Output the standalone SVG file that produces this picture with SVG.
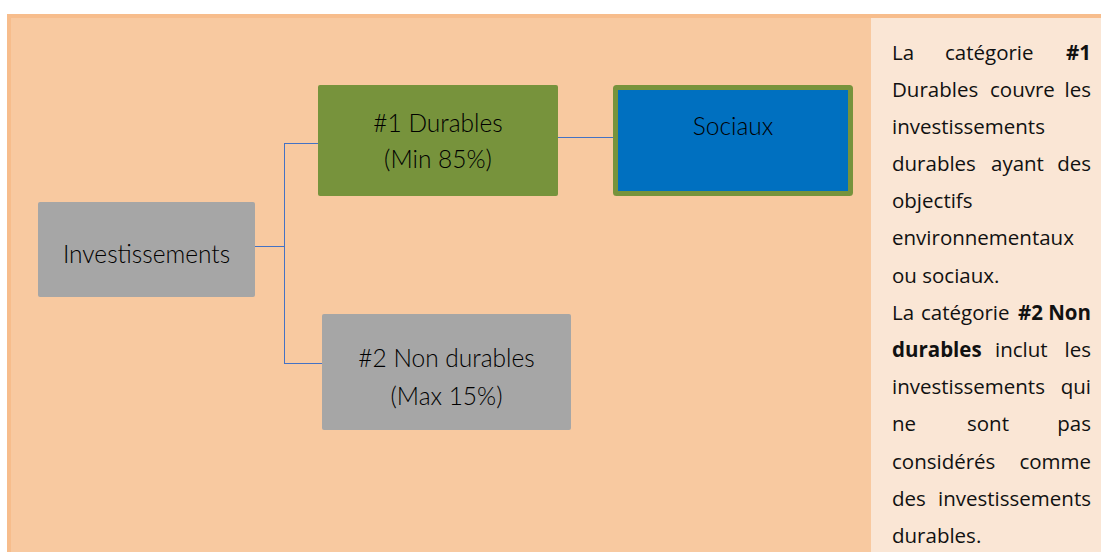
<svg xmlns="http://www.w3.org/2000/svg" width="1101" height="552" viewBox="0 0 1101 552">
<style>
.node text{font-family:Lato,"Open Sans",sans-serif;font-weight:300;font-size:24.5px;fill:#000;text-anchor:middle}
.conn{stroke:#4472C4;stroke-width:1;fill:none}
.p{font-family:"Open Sans","Liberation Sans",sans-serif;font-size:20.5px;fill:#111}
.b{font-weight:bold}
.e{text-anchor:end}
</style>
<rect x="0" y="0" width="1101" height="552" fill="#ffffff"/>
<rect x="7" y="14" width="1094" height="538" fill="#F7BD8C"/>
<rect x="11" y="18" width="1090" height="534" fill="#F8C9A0"/>
<rect x="871" y="18" width="230" height="534" fill="#FAE6D5"/>
<g id="connectors">
<path class="conn" d="M255,246.5 H284.5 M284.5,143 V364 M284,143.5 H318 M284,363.5 H322 M558,137.5 H613"/>
</g>
<g id="node-investissements" class="node">
<rect x="38" y="202" width="217" height="95" rx="2" fill="#A6A6A6"/>
<text x="146.5" y="263">Investissements</text>
</g>
<g id="node-durables" class="node">
<rect x="318" y="85" width="240" height="111" rx="2" fill="#77933C"/>
<text x="438" y="132">#1 Durables</text>
<text x="438" y="168">(Min 85%)</text>
</g>
<g id="node-sociaux" class="node">
<rect x="615.5" y="87.5" width="235" height="106" rx="1" fill="#0070C0" stroke="#77933C" stroke-width="5"/>
<text x="733" y="135">Sociaux</text>
</g>
<g id="node-non-durables" class="node">
<rect x="322" y="314" width="249" height="116" rx="2" fill="#A6A6A6"/>
<text x="446.5" y="367">#2 Non durables</text>
<text x="446.5" y="405">(Max 15%)</text>
</g>
<g id="description" class="p">
<text x="892" y="60">La</text><text x="945" y="60">catégorie</text><text class="b e" x="1091" y="60">#1</text>
<text x="892" y="97">Durables</text><text x="990" y="97">couvre</text><text class="e" x="1091" y="97">les</text>
<text x="892" y="134">investissements</text>
<text x="892" y="171">durables</text><text x="991" y="171">ayant</text><text class="e" x="1091" y="171">des</text>
<text x="892" y="208">objectifs</text>
<text x="892" y="245">environnementaux</text>
<text x="892" y="283">ou sociaux.</text>
<text x="892" y="320">La</text><text x="921" y="320">catégorie</text><text class="b" x="1018" y="320">#2</text><text class="b e" x="1091" y="320">Non</text>
<text class="b" x="892" y="357">durables</text><text x="995" y="357">inclut</text><text class="e" x="1091" y="357">les</text>
<text x="892" y="394">investissements</text><text class="e" x="1091" y="394">qui</text>
<text x="892" y="431">ne</text><text x="967" y="431">sont</text><text class="e" x="1091" y="431">pas</text>
<text x="892" y="469">considérés</text><text class="e" x="1091" y="469">comme</text>
<text x="892" y="506">des</text><text class="e" x="1091" y="506">investissements</text>
<text x="892" y="543">durables.</text>
</g>
</svg>
